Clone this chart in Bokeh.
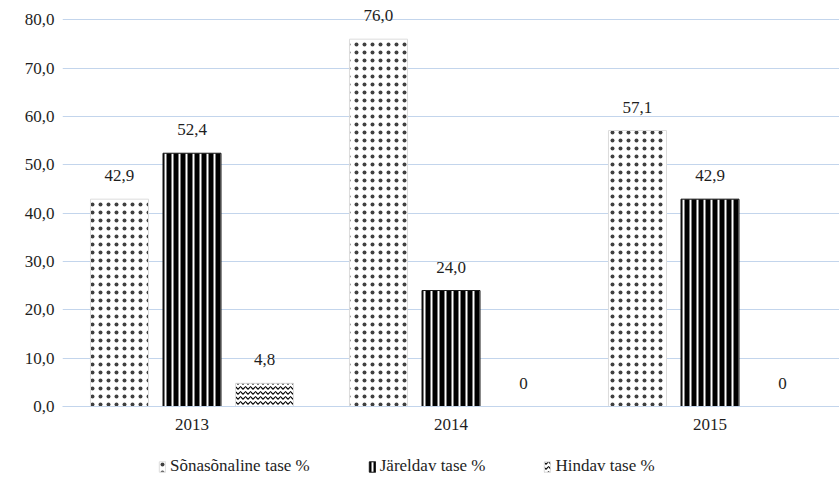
from bokeh.plotting import figure
from bokeh.layouts import column
from bokeh.models import ColumnDataSource, FactorRange, Range1d, CustomJSTickFormatter, Legend, LegendItem
from bokeh.transform import dodge
from bokeh.core.properties import value
from bokeh.embed import file_html
from bokeh.resources import INLINE

years = ["2013", "2014", "2015"]
sonasonaline = [42.9, 76.0, 57.1]
jareldav = [52.4, 24.0, 42.9]
hindav = [4.8, 0.0, 0.0]
series_names = ["Sõnasõnaline tase %", "Järeldav tase %", "Hindav tase %"]
y_ticks = [0, 10, 20, 30, 40, 50, 60, 70, 80]

def fmt(v):
    return "0" if v == 0 else f"{v:.1f}".replace(".", ",")

src = ColumnDataSource(dict(
    years=years,
    s=sonasonaline, j=jareldav, h=hindav,
    sl=[fmt(v) for v in sonasonaline],
    jl=[fmt(v) for v in jareldav],
    hl=[fmt(v) for v in hindav],
))

font = "Liberation Serif"
txtcol = "#1e1e1e"
grid = "#c3d5ec"
fs = "17px"

p = figure(width=839, height=440, x_range=FactorRange(*years, range_padding=0),
           y_range=Range1d(0, 84), output_backend="svg", toolbar_location=None,
           min_border_left=62, min_border_right=0, min_border_top=0, min_border_bottom=34)
p.outline_line_color = None
p.background_fill_color = "white"

W = 0.224
off = 0.28
styles = [
    dict(fill_color="white", line_color="#dcdcdc", line_width=1,
         hatch_pattern="dot", hatch_color="black", hatch_scale=8, hatch_weight=0.5,
         hatch_alpha=0.75),
    dict(fill_color="black", line_color="#1a1a1a", line_width=1,
         hatch_pattern="vertical_line", hatch_color="white", hatch_scale=7, hatch_weight=2),
    dict(fill_color="white", line_color="#dcdcdc", line_width=1,
         hatch_pattern="horizontal_wave", hatch_color="black", hatch_scale=5, hatch_weight=1.1),
]
cols = ["s", "j", "h"]
labs = ["sl", "jl", "hl"]
offs = [-off, 0, off]

for c, st, dx in zip(cols, styles, offs):
    p.vbar(x=dodge("years", dx, range=p.x_range), top=c, width=W, source=src, **st)

for c, lab, dx in zip(cols, labs, offs):
    p.text(x=dodge("years", dx, range=p.x_range), y=c, text=lab, source=src,
           text_align="center", text_baseline="bottom", y_offset=-18,
           text_font=value(font), text_font_size=fs, text_color=txtcol)

p.yaxis.ticker = y_ticks
p.yaxis.formatter = CustomJSTickFormatter(code="return tick.toFixed(1).replace('.', ',');")
for ax in (p.xaxis, p.yaxis):
    ax.major_label_text_font = font
    ax.major_label_text_font_size = fs
    ax.major_label_text_color = txtcol
    ax.major_tick_line_color = None
    ax.minor_tick_line_color = None
p.yaxis.axis_line_color = None
p.yaxis.major_label_standoff = 2
p.xaxis.axis_line_color = grid
p.xaxis.major_label_standoff = 6
p.xgrid.grid_line_color = None
p.ygrid.grid_line_color = grid
p.ygrid.grid_line_width = 1

# legend strip below the chart
lf = figure(width=839, height=40, x_range=Range1d(0, 1), y_range=Range1d(0, 1),
            output_backend="svg", toolbar_location=None, x_axis_type=None, y_axis_type=None,
            min_border=0)
lf.outline_line_color = None
lf.grid.visible = False
hidden = ColumnDataSource(dict(x=[-10.0], top=[0.0]))
items = []
for name, st in zip(series_names, styles):
    r = lf.vbar(x="x", top="top", width=0.1, source=hidden, **st)
    items.append(LegendItem(label=name, renderers=[r]))

legend = Legend(items=items, orientation="horizontal", location=(96, 4),
                label_text_font=font, label_text_font_size=fs, label_text_color=txtcol,
                glyph_width=8, glyph_height=13, label_standoff=4, spacing=58,
                border_line_color=None, background_fill_alpha=0, margin=0, padding=2)
lf.add_layout(legend, "center")

open("out.html", "w").write(file_html(column(p, lf, spacing=0), INLINE))
